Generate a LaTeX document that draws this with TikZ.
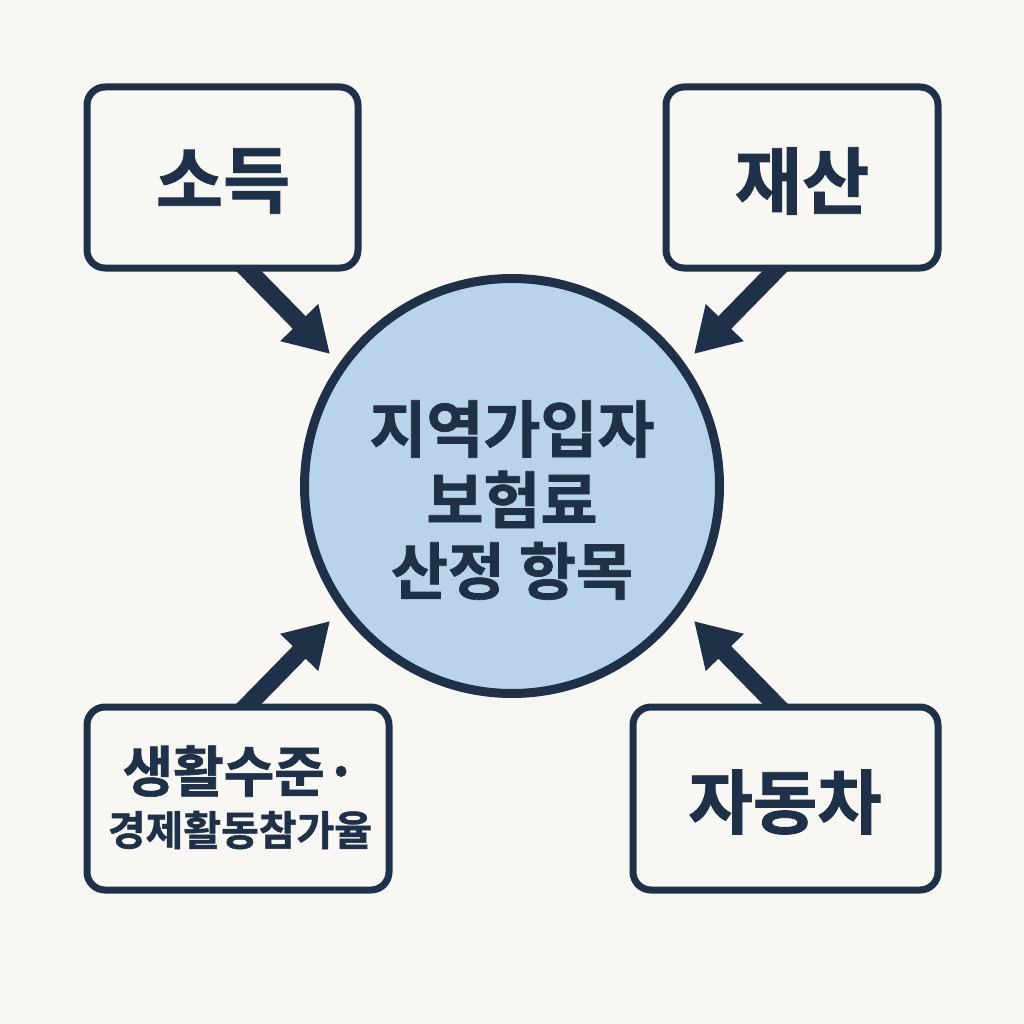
\documentclass[tikz,border=0pt]{standalone}
\usepackage{fontspec}
\newfontfamily\kr{Noto Sans CJK KR Bold}[FakeBold=1.2]
\usetikzlibrary{arrows.meta}
\definecolor{bg}{HTML}{F8F7F3}
\definecolor{navy}{HTML}{1F3149}
\definecolor{cfill}{HTML}{B9D4EA}
\tikzset{
  itembox/.style={draw=navy, line width=7pt, rounded corners=18pt, fill=bg, inner sep=0pt},
  bigarrow/.style={draw=navy, line width=18pt, -{Triangle[length=44pt,width=50pt]}, navy},
  lbl/.style={text=navy, font=\kr, align=center}
}
\begin{document}
\begin{tikzpicture}[x=1pt,y=-1pt]
\fill[bg] (0,0) rectangle (1024,1024);
\useasboundingbox (0,0) rectangle (1024,1024);
% circle
\node[circle, draw=navy, line width=9pt, fill=cfill, minimum size=415pt, inner sep=0pt] (c) at (512,486) {};
% arrow anchors
\coordinate (s1) at (240,262);
\coordinate (e1) at (330,354);
\coordinate (s2) at (784,262);
\coordinate (e2) at (694,354);
\coordinate (s3) at (240,713);
\coordinate (e3) at (330,621);
\coordinate (s4) at (784,713);
\coordinate (e4) at (694,621);
\draw[bigarrow] (s1) -- (e1);
\draw[bigarrow] (s2) -- (e2);
\draw[bigarrow] (s3) -- (e3);
\draw[bigarrow] (s4) -- (e4);
% boxes
\node[itembox, minimum width=271pt, minimum height=181pt] (b1) at (222.5,177.5) {};
\node[itembox, minimum width=272pt, minimum height=181pt] (b2) at (802,177.5) {};
\node[itembox, minimum width=302pt, minimum height=183pt] (b3) at (238,798.5) {};
\node[itembox, minimum width=305pt, minimum height=183pt] (b4) at (785.5,798.5) {};
% labels
\node[lbl, font=\kr\fontsize{73pt}{80pt}\selectfont] (t1) at (223,181) {소득};
\node[lbl, font=\kr\fontsize{73pt}{80pt}\selectfont] (t2) at (802,181) {재산};
\node[lbl, font=\kr\fontsize{70pt}{80pt}\selectfont] (t4) at (785,802) {자동차};
\node[lbl, font=\kr\fontsize{55pt}{60pt}\selectfont] (t3a) at (240,771) {생활수준·};
\node[lbl, font=\kr\fontsize{41pt}{50pt}\selectfont] (t3b) at (240,830) {경제활동참가율};
\node[lbl, font=\kr\fontsize{62pt}{71pt}\selectfont] (tc) at (512,500) {지역가입자\\보험료\\산정 항목};
\end{tikzpicture}
\end{document}
